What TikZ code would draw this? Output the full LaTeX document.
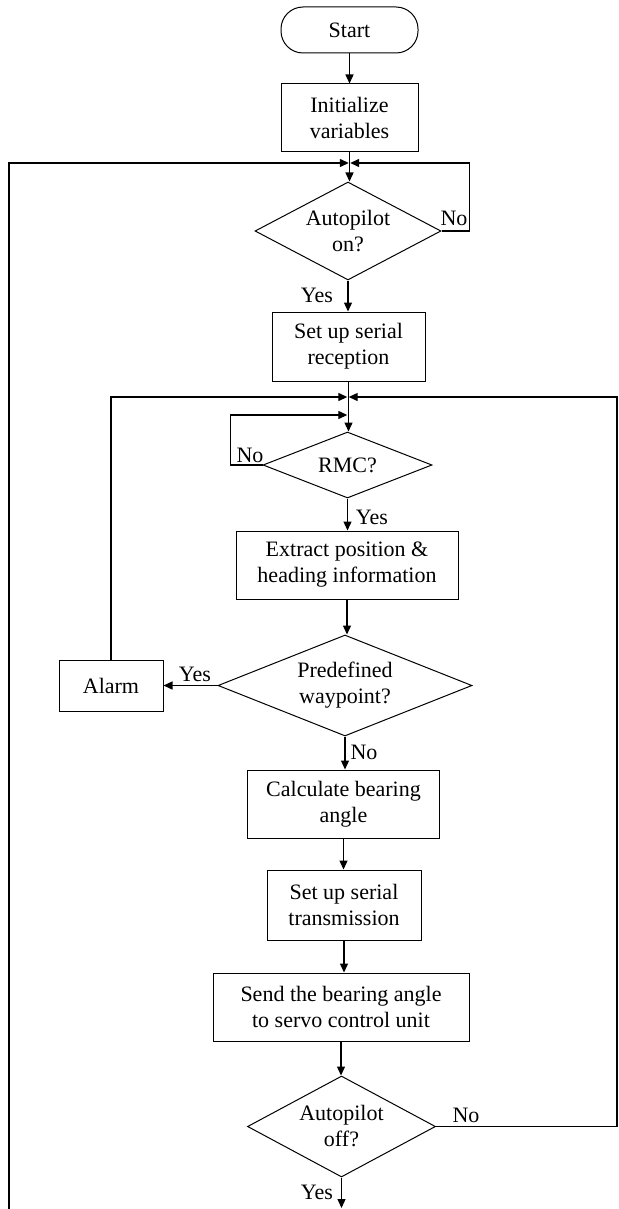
\documentclass[tikz,border=0pt]{standalone}
\usepackage{fontspec}
\setmainfont{Liberation Serif}
\usepackage{tikz}
\usetikzlibrary{arrows.meta}
\usetikzlibrary{shapes.geometric}

\begin{document}
\begin{tikzpicture}[x=1pt,y=-1pt,
    font=\fontsize{22}{26}\selectfont,
    box/.style={draw,line width=1pt,align=center,inner sep=0pt},
    term/.style={box,rounded corners=22pt},
    decision/.style={draw,line width=1pt,diamond,inner sep=0pt},
    flow/.style={line width=1.3pt,-{Triangle[length=9pt,width=8pt]}},
    lbl/.style={inner sep=0pt}]
\useasboundingbox (0,0) rectangle (618,1209);
    \node[term,minimum width=137,minimum height=46] (start) at (349.5,30) {Start};
    \node[box,minimum width=137,minimum height=68] (init) at (349.5,118) {Initialize\\variables};
    \node[decision,minimum width=186,minimum height=98,label={[align=center]center:Autopilot\\on?}] (auton) at (348,231) {};
    \node[box,minimum width=153,minimum height=69] (serrx) at (348.5,346.5) {Set up serial\\reception};
    \node[decision,minimum width=169,minimum height=66,label=center:RMC?] (rmc) at (347.5,465) {};
    \node[box,minimum width=222,minimum height=68] (extract) at (347,565) {Extract position \&\\heading information};
    \node[decision,minimum width=254,minimum height=101,label={[align=center]center:Predefined\\waypoint?}] (pwp) at (345,685.5) {};
    \node[box,minimum width=104,minimum height=51] (alarm) at (111,685.5) {Alarm};
    \node[box,minimum width=192,minimum height=68] (calc) at (343.5,804) {Calculate bearing\\angle};
    \node[box,minimum width=154,minimum height=70] (sertx) at (344,905) {Set up serial\\transmission};
    \node[box,minimum width=256,minimum height=68] (send) at (341,1007) {Send the bearing angle\\to servo control unit};
    \node[decision,minimum width=188,minimum height=101,label={[align=center]center:Autopilot\\off?}] (autoff) at (341.5,1126.5) {};

    \coordinate (j1) at (349.5,163);
    \coordinate (j2) at (348,397);
    \coordinate (j3) at (348,415);
    \coordinate (ledge) at (9,1209);
    \coordinate (redge) at (617,0);
    \coordinate (bend) at (341.5,1208);

    \draw[flow] (start.south) -- (start.south |- init.north);
    \draw[flow] (init.south) -- (init.south |- auton.north);
    \draw[flow] (ledge) |- ([xshift=-0.7pt]j1);
    \draw[flow] (auton.east) -- ++(28,0) |- ([xshift=0.7pt]j1);
    \draw[flow] (auton.south) -- (auton.south |- serrx.north);
    \draw[flow] (serrx.south) -- (serrx.south |- rmc.north);
    \draw[flow] (alarm.north) |- ([xshift=-0.7pt]j2);
    \draw[flow] (autoff.east) -- (autoff.east -| redge) |- ([xshift=0.7pt]j2);
    \draw[flow] (rmc.west) -- ++(-32,0) |- ([xshift=-0.7pt]j3);
    \draw[flow] (rmc.south) -- (rmc.south |- extract.north);
    \draw[flow] (extract.south) -- (extract.south |- pwp.north);
    \draw[flow] (pwp.west) -- (alarm.east);
    \draw[flow] (pwp.south) -- (pwp.south |- calc.north);
    \draw[flow] (calc.south) -- (calc.south |- sertx.north);
    \draw[flow] (sertx.south) -- (sertx.south |- send.north);
    \draw[flow] (send.south) -- (send.south |- autoff.north);
    \draw[flow] (autoff.south) -- (bend);

    \node[lbl] (no1) at (454,218) {No};
    \node[lbl] (yes1) at (317,295) {Yes};
    \node[lbl] (no2) at (250,455) {No};
    \node[lbl] (yes2) at (372,517) {Yes};
    \node[lbl] (yes3) at (195,674) {Yes};
    \node[lbl] (no3) at (364,752) {No};
    \node[lbl] (no4) at (466,1115) {No};
    \node[lbl] (yes4) at (317,1192) {Yes};
\end{tikzpicture}
\end{document}
